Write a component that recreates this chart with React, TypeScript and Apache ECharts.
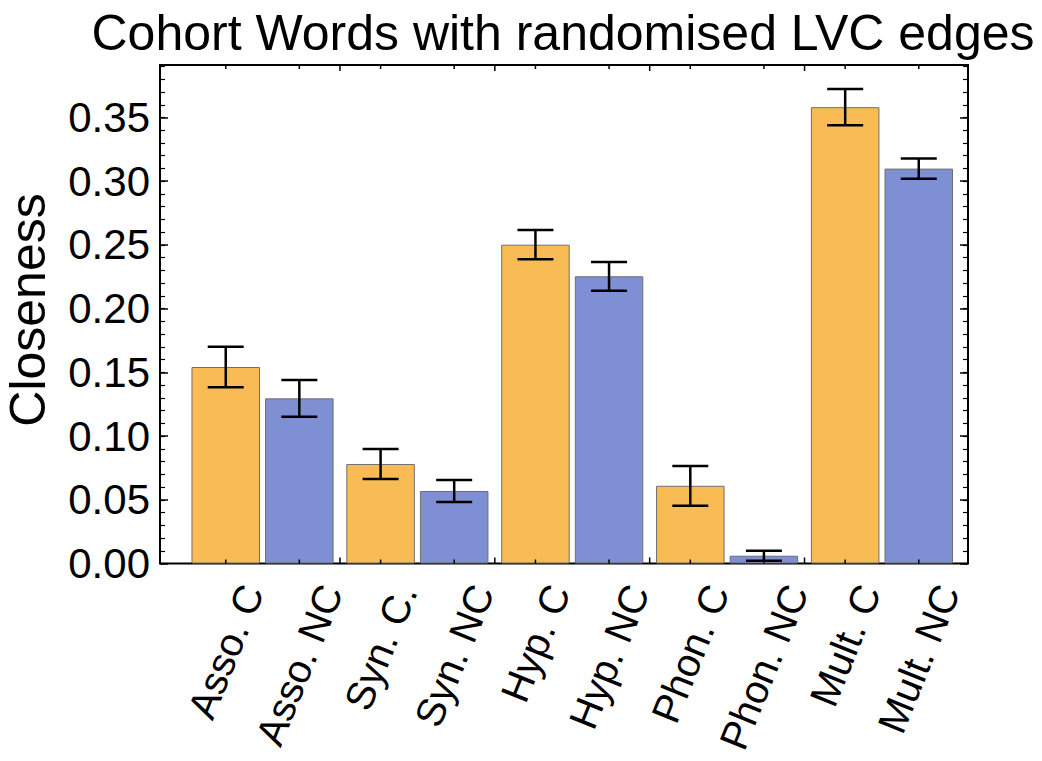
import React, { useEffect, useRef } from "react";
import * as echarts from "echarts";

// ---- data ----
const GROUPS = ["Asso.", "Syn.", "Hyp.", "Phon.", "Mult."];
const LABELS_C = ["Asso. C", "Syn. C.", "Hyp. C", "Phon. C", "Mult. C"];
const LABELS_NC = ["Asso. NC", "Syn. NC", "Hyp. NC", "Phon. NC", "Mult. NC"];
const CLOSENESS_C = [0.1542, 0.0781, 0.2502, 0.061, 0.3581];
const ERROR_C = [0.0159, 0.0118, 0.0115, 0.0156, 0.0142];
const CLOSENESS_NC = [0.1296, 0.0569, 0.2254, 0.0061, 0.3099];
const ERROR_NC = [0.0144, 0.0086, 0.0113, 0.0039, 0.0079];
const TITLE = "Cohort Words with randomised LVC edges";
const Y_NAME = "Closeness";
const Y_MAX = 0.3912;
const Y_STEP = 0.05;
const Y_MINOR = 0.01;

// ---- layout / style ----
const W = 1042;
const H = 761;
const FRAME = { left: 160, right: 74, top: 65, bottom: 197.5 };
const BARS = { left: 185.1, right: 82.6, top: 65, bottom: 197.5 };
const BAR_W = 68.5;
const BAR_GAP = 5.1;
const ORANGE = "#F9BC55";
const BLUE = "#7F8FD4";
const EDGE = "#6f6f6f";
const FONT = '"Liberation Sans", Arial, sans-serif';
const LABEL_SIZE = 40;
const LABEL_ROT = (68 * Math.PI) / 180;
const LABEL_DY = 23;

export default function App() {
  const ref = useRef<HTMLDivElement>(null);

  useEffect(() => {
    if (!ref.current) return;
    const chart = echarts.init(ref.current, null, { renderer: "svg" });

    const canvas = document.createElement("canvas");
    const ctx = canvas.getContext("2d")!;
    ctx.font = `${LABEL_SIZE}px ${FONT}`;

    const labelItems: any[] = [];
    GROUPS.forEach((_, g) => {
      [LABELS_C[g], LABELS_NC[g]].forEach((t, m) => {
        labelItems.push({ value: [g, m], text: t, w: ctx.measureText(t).width });
      });
    });
    const errItems: any[] = [];
    GROUPS.forEach((_, g) => {
      errItems.push([g, 0, CLOSENESS_C[g], ERROR_C[g]]);
      errItems.push([g, 1, CLOSENESS_NC[g], ERROR_NC[g]]);
    });
    const half = (BAR_W + BAR_GAP) / 2;

    const option: any = {
      animation: false,
      backgroundColor: "#fff",
      grid: [
        {
          ...FRAME,
          show: true,
          borderColor: "#000",
          borderWidth: 2,
          backgroundColor: "transparent",
        },
        { ...BARS },
      ],
      xAxis: [
        { gridIndex: 0, type: "value", min: 0, max: 1, show: false },
        { gridIndex: 1, type: "category", data: GROUPS, show: false },
      ],
      yAxis: [
        {
          gridIndex: 0,
          type: "value",
          min: 0,
          max: Y_MAX,
          interval: Y_STEP,
          position: "left",
          axisLine: { show: false },
          axisTick: { show: true, inside: true, length: 8, lineStyle: { color: "#000", width: 1.5 } },
          axisLabel: {
            showMaxLabel: false,
            fontSize: 42,
            color: "#000",
            fontFamily: FONT,
            margin: 10,
            formatter: (v: number) => v.toFixed(2),
          },
          splitLine: { show: false },
        },
        {
          gridIndex: 0,
          type: "value",
          min: 0,
          max: Y_MAX,
          interval: Y_MINOR,
          position: "left",
          axisLine: { show: false },
          axisTick: { show: true, inside: true, length: 5, lineStyle: { color: "#000", width: 1.2 } },
          axisLabel: { show: false },
          splitLine: { show: false },
        },
        {
          gridIndex: 0,
          type: "value",
          min: 0,
          max: Y_MAX,
          interval: Y_STEP,
          position: "right",
          axisLine: { show: false },
          axisTick: { show: true, inside: true, length: 8, lineStyle: { color: "#000", width: 1.5 } },
          axisLabel: { show: false },
          splitLine: { show: false },
        },
        {
          gridIndex: 0,
          type: "value",
          min: 0,
          max: Y_MAX,
          interval: Y_MINOR,
          position: "right",
          axisLine: { show: false },
          axisTick: { show: true, inside: true, length: 5, lineStyle: { color: "#000", width: 1.2 } },
          axisLabel: { show: false },
          splitLine: { show: false },
        },
        { gridIndex: 1, type: "value", min: 0, max: Y_MAX, show: false },
      ],
      graphic: [
        {
          type: "text",
          x: 563,
          y: 33,
          style: {
            text: TITLE,
            font: `50px ${FONT}`,
            fill: "#000",
            align: "center",
            verticalAlign: "middle",
          },
        },
        {
          type: "text",
          x: 28,
          y: 310,
          rotation: Math.PI / 2,
          style: {
            text: Y_NAME,
            font: `50px ${FONT}`,
            fill: "#000",
            align: "center",
            verticalAlign: "middle",
          },
        },
      ],
      series: [
        {
          name: "C",
          type: "bar",
          xAxisIndex: 1,
          yAxisIndex: 4,
          data: CLOSENESS_C,
          barWidth: BAR_W,
          barGap: `${(BAR_GAP / BAR_W) * 100}%`,
          itemStyle: { color: ORANGE, borderColor: EDGE, borderWidth: 1 },
        },
        {
          name: "NC",
          type: "bar",
          xAxisIndex: 1,
          yAxisIndex: 4,
          data: CLOSENESS_NC,
          barWidth: BAR_W,
          barGap: `${(BAR_GAP / BAR_W) * 100}%`,
          itemStyle: { color: BLUE, borderColor: EDGE, borderWidth: 1 },
        },
        {
          name: "error",
          type: "custom",
          xAxisIndex: 1,
          yAxisIndex: 4,
          z: 10,
          encode: { x: 0, y: 2 },
          data: errItems,
          renderItem: (params: any, api: any) => {
            const g = api.value(0);
            const m = api.value(1);
            const v = api.value(2);
            const e = api.value(3);
            const c = api.coord([g, v]);
            const x = c[0] + (m === 0 ? -half : half);
            const yHi = api.coord([g, v + e])[1];
            const yLo = api.coord([g, v - e])[1];
            const cap = 18;
            const st = { stroke: "#000", lineWidth: 2.5 };
            return {
              type: "group",
              children: [
                { type: "line", shape: { x1: x, y1: yHi, x2: x, y2: yLo }, style: st },
                { type: "line", shape: { x1: x - cap, y1: yHi, x2: x + cap, y2: yHi }, style: st },
                { type: "line", shape: { x1: x - cap, y1: yLo, x2: x + cap, y2: yLo }, style: st },
              ],
            };
          },
        },
        {
          name: "ticks",
          type: "custom",
          xAxisIndex: 1,
          yAxisIndex: 4,
          z: 11,
          clip: false,
          encode: { x: 0, y: 1 },
          data: GROUPS.map((_, g) => [g, 0]),
          renderItem: (params: any, api: any) => {
            const g = api.value(0);
            const b = api.coord([g, 0]);
            const t = api.coord([g, Y_MAX]);
            const band = api.size([1, 0])[0];
            const st = { stroke: "#000", lineWidth: 1.5 };
            const kids: any[] = [];
            [b[0] - half, b[0] + half].forEach((x) => {
              kids.push({ type: "line", shape: { x1: x, y1: b[1], x2: x, y2: b[1] - 4 }, style: st });
              kids.push({ type: "line", shape: { x1: x, y1: t[1], x2: x, y2: t[1] + 4 }, style: st });
            });
            if (g < GROUPS.length - 1) {
              const x = b[0] + band / 2;
              kids.push({ type: "line", shape: { x1: x, y1: b[1], x2: x, y2: b[1] - 6 }, style: st });
              kids.push({ type: "line", shape: { x1: x, y1: t[1], x2: x, y2: t[1] + 6 }, style: st });
            }
            return { type: "group", children: kids };
          },
        },
        {
          name: "labels",
          type: "custom",
          xAxisIndex: 1,
          yAxisIndex: 4,
          clip: false,
          encode: { x: 0, y: 1 },
          data: labelItems.map((d) => d.value),
          renderItem: (params: any, api: any) => {
            const item = labelItems[params.dataIndex];
            const g = api.value(0);
            const m = api.value(1);
            const b = api.coord([g, 0]);
            const cx = b[0] + (m === 0 ? -half : half);
            return {
              type: "text",
              x: cx + (item.w * Math.cos(LABEL_ROT)) / 2,
              y: b[1] + LABEL_DY,
              rotation: LABEL_ROT,
              style: {
                text: item.text,
                font: `${LABEL_SIZE}px ${FONT}`,
                fill: "#000",
                align: "right",
                verticalAlign: "middle",
              },
            };
          },
        },
      ],
    };

    chart.setOption(option);
    return () => chart.dispose();
  }, []);

  return (
    <div
      ref={ref}
      style={{ position: "absolute", left: 0, top: 0, width: W, height: H }}
    />
  );
}
